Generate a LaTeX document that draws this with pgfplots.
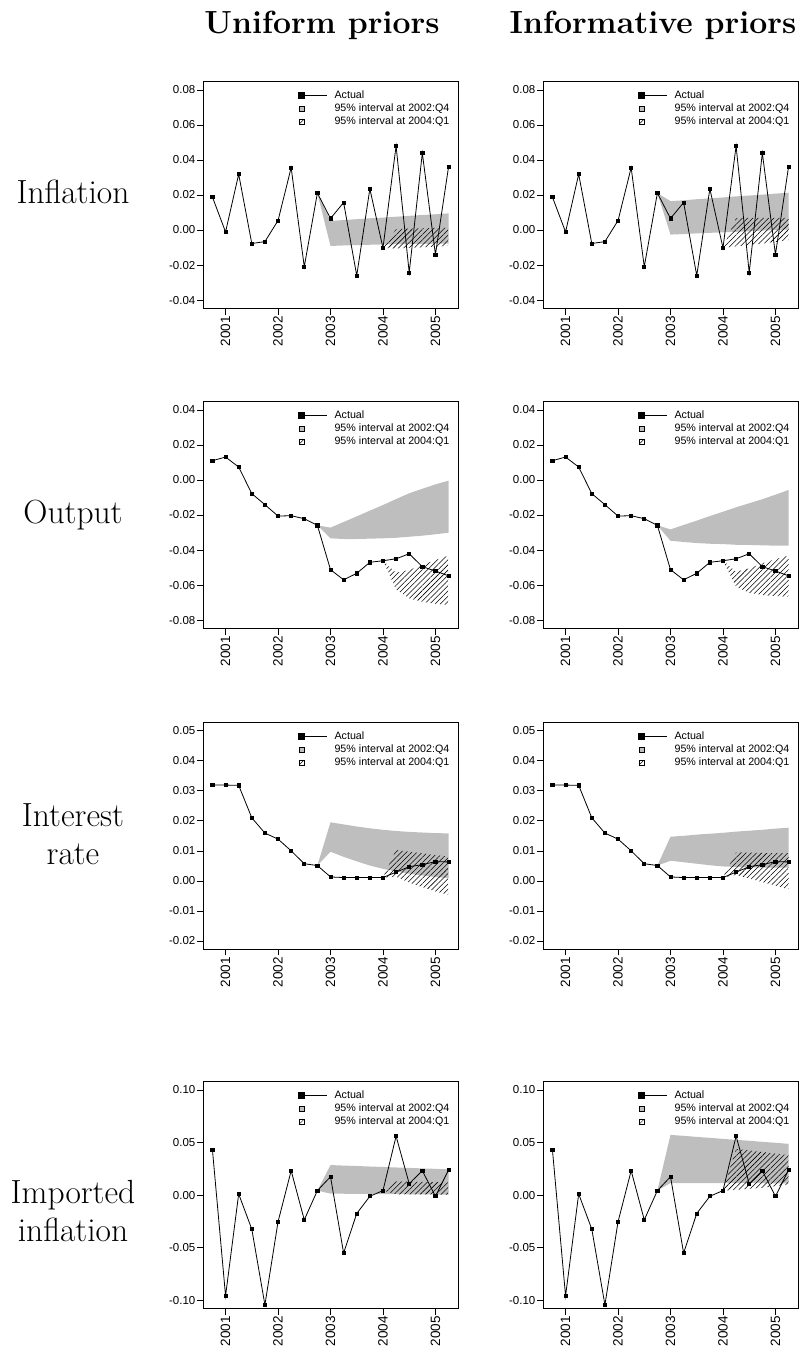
\documentclass[border=0pt]{standalone}
\usepackage{fontspec}
\usepackage{pgfplots}
\usepackage{pgfplotstable}
\pgfplotsset{compat=1.18}
\usetikzlibrary{patterns.meta}
\newfontfamily\arial{Liberation Sans}
\newcommand\tickfont{\arial\fontsize{11.5}{13}\selectfont}
\newcommand\xtickfont{\arial\fontsize{13.5}{15}\selectfont}
\newcommand\legfont{\arial\fontsize{10.7}{12}\selectfont}
\definecolor{bandgray}{RGB}{190,190,190}

\pgfplotstableread{
x y
2000.75 0.0188
2001.00 -0.0011
2001.25 0.0319
2001.50 -0.0077
2001.75 -0.0066
2002.00 0.0054
2002.25 0.0356
2002.50 -0.0209
2002.75 0.0211
2003.00 0.0066
2003.25 0.0157
2003.50 -0.0260
2003.75 0.0235
2004.00 -0.0102
2004.25 0.0480
2004.50 -0.0243
2004.75 0.0440
2005.00 -0.0140
2005.25 0.0361
}\inflActual

\pgfplotstableread{
x y
2000.75 0.0110
2001.00 0.0131
2001.25 0.0074
2001.50 -0.0078
2001.75 -0.0141
2002.00 -0.0206
2002.25 -0.0204
2002.50 -0.0221
2002.75 -0.0259
2003.00 -0.0512
2003.25 -0.0570
2003.50 -0.0533
2003.75 -0.0470
2004.00 -0.0461
2004.25 -0.0450
2004.50 -0.0421
2004.75 -0.0495
2005.00 -0.0520
2005.25 -0.0547
}\outActual

\pgfplotstableread{
x y
2000.75 0.0319
2001.00 0.0319
2001.25 0.0318
2001.50 0.0210
2001.75 0.0159
2002.00 0.0139
2002.25 0.0100
2002.50 0.0057
2002.75 0.0051
2003.00 0.0013
2003.25 0.0011
2003.50 0.0011
2003.75 0.0011
2004.00 0.0011
2004.25 0.0029
2004.50 0.0047
2004.75 0.0054
2005.00 0.0064
2005.25 0.0063
}\intActual

\pgfplotstableread{
x y
2000.75 0.0431
2001.00 -0.0959
2001.25 0.0011
2001.50 -0.0324
2001.75 -0.1044
2002.00 -0.0254
2002.25 0.0232
2002.50 -0.0235
2002.75 0.0043
2003.00 0.0175
2003.25 -0.0551
2003.50 -0.0175
2003.75 -0.0011
2004.00 0.0043
2004.25 0.0561
2004.50 0.0109
2004.75 0.0232
2005.00 -0.0011
2005.25 0.0239
}\impActual

\pgfplotsset{
  panel/.style={
    scale only axis, width=255pt, height=227pt, anchor=north west,
    xmin=2000.57, xmax=2005.43,
    xtick={2001,2002,2003,2004,2005},
    xticklabels={2001,2002,2003,2004,2005},
    scaled y ticks=false, scaled x ticks=false,
    xtick pos=bottom, ytick pos=left,
    tick align=outside, major tick length=6pt,
    every tick/.style={black, line width=0.6pt},
    axis line style={black, line width=0.7pt},
    x tick label style={rotate=90, anchor=east, font=\xtickfont, inner sep=1.5pt},
    y tick label style={font=\tickfont, inner sep=1.5pt},
    legend cell align=left,
    legend style={draw=none, fill=none, at={(axis description cs:0.37,0.967)},
      anchor=north west, inner sep=0pt, column sep=6pt, row sep=0pt,
      font=\legfont, nodes={inner sep=1pt, text height=8pt, text depth=3pt}},
  },
  infl/.style={ymin=-0.0448, ymax=0.0848, ytick={-0.04,-0.02,0,0.02,0.04,0.06,0.08},
    yticklabels={-0.04,-0.02,0.00,0.02,0.04,0.06,0.08}},
  outp/.style={ymin=-0.0848, ymax=0.0448, ytick={-0.08,-0.06,-0.04,-0.02,0,0.02,0.04},
    yticklabels={-0.08,-0.06,-0.04,-0.02,0.00,0.02,0.04}},
  intr/.style={ymin=-0.0228, ymax=0.0528, ytick={-0.02,-0.01,0,0.01,0.02,0.03,0.04,0.05},
    yticklabels={-0.02,-0.01,0.00,0.01,0.02,0.03,0.04,0.05}},
  impi/.style={ymin=-0.108, ymax=0.108, ytick={-0.10,-0.05,0,0.05,0.10},
    yticklabels={-0.10,-0.05,0.00,0.05,0.10}},
  actual/.style={black, line width=0.8pt, mark=square*, mark size=1.6pt, mark options={solid}, forget plot},
  band/.style={fill=bandgray, draw=none, forget plot},
  hatch/.style={draw=none, pattern={Lines[angle=45,distance=3.7pt,line width=0.55pt]}, forget plot},
}

\newcommand\legentries{%
  \addlegendimage{draw=none, fill=none, mark=none,
    legend image code/.code={\path[draw=none,fill=none] (-4pt,-4pt) rectangle (26pt,4pt);
      \draw[black,line width=0.7pt] (0pt,0pt) -- (25pt,0pt);
      \fill[black] (-3.5pt,-3.5pt) rectangle (3.5pt,3.5pt);}}
  \addlegendentry{Actual}
  \addlegendimage{draw=none, fill=none, mark=none,
    legend image code/.code={\path[draw=none,fill=none] (-4pt,-4pt) rectangle (26pt,4pt);
      \filldraw[fill=bandgray,draw=black,line width=0.5pt] (-2.5pt,-2.5pt) rectangle (2.5pt,2.5pt);}}
  \addlegendentry{95\% interval at 2002:Q4}
  \addlegendimage{draw=none, fill=none, mark=none,
    legend image code/.code={\path[draw=none,fill=none] (-4pt,-4pt) rectangle (26pt,4pt);
      \draw[black,line width=0.5pt,fill=white] (-2.5pt,-2.5pt) rectangle (2.5pt,2.5pt);
      \draw[black,line width=0.5pt] (-2.5pt,-2.5pt) -- (2.5pt,2.5pt);}}
  \addlegendentry{95\% interval at 2004:Q1}
}

\begin{document}
\begin{tikzpicture}
\useasboundingbox (0,0) rectangle (809pt,-1353pt);

% column titles
\node[font=\bfseries\fontsize{32}{38}\selectfont, anchor=base] at (322pt,-33pt) {Uniform priors};
\node[font=\bfseries\fontsize{32}{38}\selectfont, anchor=base] at (653pt,-33pt) {Informative priors};
% row labels
\node[font=\fontsize{33.5}{38}\selectfont, anchor=base] at (73pt,-203pt) {Inflation};
\node[font=\fontsize{33.5}{38}\selectfont, anchor=base] at (73pt,-523pt) {Output};
\node[font=\fontsize{33.5}{38}\selectfont, anchor=base] at (73pt,-826pt) {Interest};
\node[font=\fontsize{33.5}{38}\selectfont, anchor=base] at (73pt,-864.7pt) {rate};
\node[font=\fontsize{33.5}{38}\selectfont, anchor=base] at (73pt,-1203pt) {Imported};
\node[font=\fontsize{33.5}{38}\selectfont, anchor=base] at (73pt,-1241.7pt) {inflation};

% ---------- Inflation, uniform ----------
\begin{axis}[panel, infl, at={(203pt,-81.5pt)}]
\legentries
\addplot[band] table {
2002.75 0.0211
2003.00 0.0052
2003.25 0.0057
2003.50 0.0062
2003.75 0.0067
2004.00 0.0071
2004.25 0.0076
2004.50 0.0081
2004.75 0.0086
2005.00 0.0090
2005.25 0.0095
2005.25 -0.0077
2005.00 -0.0078
2004.75 -0.0079
2004.50 -0.0080
2004.25 -0.0081
2004.00 -0.0082
2003.75 -0.0084
2003.50 -0.0086
2003.25 -0.0088
2003.00 -0.0091
};
\addplot[hatch] table {
2004.00 -0.0102
2004.25 0.0005
2004.50 0.0008
2004.75 0.0010
2005.00 0.0012
2005.25 0.0013
2005.25 -0.0090
2005.00 -0.0095
2004.75 -0.0099
2004.50 -0.0102
2004.25 -0.0105
};
\addplot[actual] table {\inflActual};
\end{axis}

% ---------- Inflation, informative ----------
\begin{axis}[panel, infl, at={(543pt,-81.5pt)}]
\legentries
\addplot[band] table {
2002.75 0.0211
2003.00 0.0165
2003.25 0.0170
2003.50 0.0176
2003.75 0.0181
2004.00 0.0186
2004.25 0.0192
2004.50 0.0197
2004.75 0.0202
2005.00 0.0208
2005.25 0.0213
2005.25 0.0003
2005.00 0.0000
2004.75 -0.0003
2004.50 -0.0007
2004.25 -0.0010
2004.00 -0.0013
2003.75 -0.0016
2003.50 -0.0019
2003.25 -0.0023
2003.00 -0.0026
};
\addplot[hatch] table {
2004.00 -0.0102
2004.25 0.0068
2004.50 0.0069
2004.75 0.0069
2005.00 0.0069
2005.25 0.0069
2005.25 -0.0058
2005.00 -0.0068
2004.75 -0.0077
2004.50 -0.0085
2004.25 -0.0093
};
\addplot[actual] table {\inflActual};
\end{axis}

% ---------- Output, uniform ----------
\begin{axis}[panel, outp, at={(203pt,-401.5pt)}]
\legentries
\addplot[band] table {
2002.75 -0.0259
2003.00 -0.0272
2003.25 -0.0240
2003.50 -0.0208
2003.75 -0.0175
2004.00 -0.0143
2004.25 -0.0109
2004.50 -0.0076
2004.75 -0.0050
2005.00 -0.0025
2005.25 -0.0004
2005.25 -0.0301
2005.00 -0.0310
2004.75 -0.0318
2004.50 -0.0324
2004.25 -0.0330
2004.00 -0.0333
2003.75 -0.0335
2003.50 -0.0337
2003.25 -0.0337
2003.00 -0.0333
};
\addplot[hatch] table {
2004.00 -0.0461
2004.25 -0.0530
2004.50 -0.0514
2004.75 -0.0486
2005.00 -0.0457
2005.25 -0.0432
2005.25 -0.0714
2005.00 -0.0707
2004.75 -0.0695
2004.50 -0.0676
2004.25 -0.0625
};
\addplot[actual] table {\outActual};
\end{axis}

% ---------- Output, informative ----------
\begin{axis}[panel, outp, at={(543pt,-401.5pt)}]
\legentries
\addplot[band] table {
2002.75 -0.0259
2003.00 -0.0282
2003.25 -0.0257
2003.50 -0.0232
2003.75 -0.0206
2004.00 -0.0181
2004.25 -0.0156
2004.50 -0.0133
2004.75 -0.0110
2005.00 -0.0084
2005.25 -0.0057
2005.25 -0.0375
2005.00 -0.0375
2004.75 -0.0373
2004.50 -0.0371
2004.25 -0.0370
2004.00 -0.0366
2003.75 -0.0364
2003.50 -0.0360
2003.25 -0.0354
2003.00 -0.0347
};
\addplot[hatch] table {
2004.00 -0.0461
2004.25 -0.0524
2004.50 -0.0505
2004.75 -0.0476
2005.00 -0.0453
2005.25 -0.0432
2005.25 -0.0667
2005.00 -0.0663
2004.75 -0.0657
2004.50 -0.0644
2004.25 -0.0610
};
\addplot[actual] table {\outActual};
\end{axis}

% ---------- Interest rate, uniform ----------
\begin{axis}[panel, intr, at={(203pt,-722.3pt)}]
\legentries
\addplot[band] table {
2002.75 0.0051
2003.00 0.0195
2003.25 0.0188
2003.50 0.0181
2003.75 0.0175
2004.00 0.0170
2004.25 0.0166
2004.50 0.0163
2004.75 0.0161
2005.00 0.0159
2005.25 0.0158
2005.25 0.0009
2005.00 0.0013
2004.75 0.0018
2004.50 0.0024
2004.25 0.0031
2004.00 0.0040
2003.75 0.0051
2003.50 0.0065
2003.25 0.0080
2003.00 0.0097
};
\addplot[hatch] table {
2004.00 0.0011
2004.25 0.0103
2004.50 0.0097
2004.75 0.0092
2005.00 0.0086
2005.25 0.0081
2005.25 -0.0047
2005.00 -0.0035
2004.75 -0.0021
2004.50 -0.0006
2004.25 0.0014
};
\addplot[actual] table {\intActual};
\end{axis}

% ---------- Interest rate, informative ----------
\begin{axis}[panel, intr, at={(543pt,-722.3pt)}]
\legentries
\addplot[band] table {
2002.75 0.0051
2003.00 0.0147
2003.25 0.0150
2003.50 0.0154
2003.75 0.0157
2004.00 0.0160
2004.25 0.0164
2004.50 0.0167
2004.75 0.0170
2005.00 0.0174
2005.25 0.0177
2005.25 0.0044
2005.00 0.0044
2004.75 0.0044
2004.50 0.0045
2004.25 0.0046
2004.00 0.0048
2003.75 0.0052
2003.50 0.0057
2003.25 0.0062
2003.00 0.0067
};
\addplot[hatch] table {
2004.00 0.0011
2004.25 0.0095
2004.50 0.0094
2004.75 0.0093
2005.00 0.0092
2005.25 0.0092
2005.25 -0.0028
2005.00 -0.0016
2004.75 -0.0004
2004.50 0.0008
2004.25 0.0020
};
\addplot[actual] table {\intActual};
\end{axis}

% ---------- Imported inflation, uniform ----------
\begin{axis}[panel, impi, at={(203pt,-1081.6pt)}]
\legentries
\addplot[band] table {
2002.75 0.0043
2003.00 0.0286
2003.25 0.0281
2003.50 0.0277
2003.75 0.0272
2004.00 0.0268
2004.25 0.0263
2004.50 0.0259
2004.75 0.0254
2005.00 0.0250
2005.25 0.0245
2005.25 0.0005
2005.00 0.0006
2004.75 0.0007
2004.50 0.0008
2004.25 0.0009
2004.00 0.0010
2003.75 0.0011
2003.50 0.0012
2003.25 0.0013
2003.00 0.0014
};
\addplot[hatch] table {
2004.00 0.0043
2004.25 0.0130
2004.50 0.0128
2004.75 0.0125
2005.00 0.0123
2005.25 0.0120
2005.25 0.0005
2005.00 0.0006
2004.75 0.0006
2004.50 0.0007
2004.25 0.0008
};
\addplot[actual] table {\impActual};
\end{axis}

% ---------- Imported inflation, informative ----------
\begin{axis}[panel, impi, at={(543pt,-1081.6pt)}]
\legentries
\addplot[band] table {
2002.75 0.0043
2003.00 0.0573
2003.25 0.0564
2003.50 0.0554
2003.75 0.0545
2004.00 0.0535
2004.25 0.0526
2004.50 0.0517
2004.75 0.0507
2005.00 0.0498
2005.25 0.0488
2005.25 0.0112
2005.00 0.0112
2004.75 0.0113
2004.50 0.0113
2004.25 0.0114
2004.00 0.0114
2003.75 0.0115
2003.50 0.0115
2003.25 0.0115
2003.00 0.0115
};
\addplot[hatch] table {
2004.00 0.0043
2004.25 0.0440
2004.50 0.0425
2004.75 0.0410
2005.00 0.0395
2005.25 0.0380
2005.25 0.0100
2005.00 0.0085
2004.75 0.0070
2004.50 0.0060
2004.25 0.0050
};
\addplot[actual] table {\impActual};
\end{axis}
\end{tikzpicture}
\end{document}
